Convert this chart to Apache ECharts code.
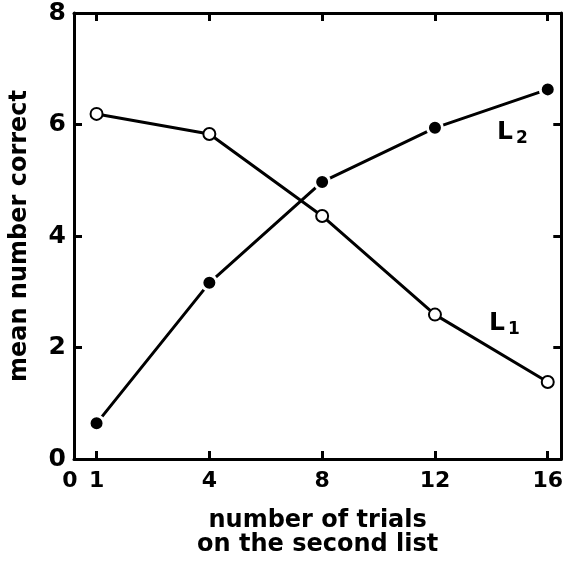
<!DOCTYPE html>
<html>
<head>
<meta charset="utf-8">
<script src="https://cdn.jsdelivr.net/npm/echarts@6/dist/echarts.min.js"></script>
<style>
  html, body { margin: 0; padding: 0; background: #fff; }
  #chart { width: 566px; height: 562px; }
</style>
</head>
<body>
<div id="chart"></div>
<script>
// trials on the second list (the x axis is drawn evenly spaced, as in the figure)
var trials = ['1', '4', '8', '12', '16'];
var l1Values = [6.19, 5.83, 4.36, 2.59, 1.38];
var l2Values = [0.64, 3.16, 4.97, 5.94, 6.63];
var yTicks = [0, 2, 4, 6, 8];

var font = 'DejaVu Sans';
var tickPos = trials.map(function (t, i) { return i; });

function toPoints(values, labelText) {
  return values.map(function (v, i) {
    var item = { value: [i, v] };
    // curve names sit next to the 12-trial point
    if (i === 3) {
      item.label = {
        show: true,
        position: 'right',
        offset: labelText === 'L1' ? [42, 9] : [48, 5],
        formatter: labelText === 'L1' ? 'L{s|1}' : 'L{s|2}',
        color: '#000',
        fontFamily: font,
        fontWeight: 'bold',
        fontSize: 25,
        rich: { s: { fontFamily: font, fontWeight: 'bold', fontSize: 17, padding: [12, 0, 0, 3] } }
      };
    }
    return item;
  });
}

var chart = echarts.init(document.getElementById('chart'));
var frameLine = { show: true, onZero: false, lineStyle: { color: '#000', width: 3 } };
var innerTick = { show: true, inside: true, length: 8, lineStyle: { color: '#000', width: 3 } };

chart.setOption({
  animation: false,
  grid: { left: 72, right: 2, top: 13, bottom: 99 },
  xAxis: [
    {
      type: 'value',
      position: 'bottom',
      min: -0.2,
      max: 4.12,
      axisLine: frameLine,
      splitLine: { show: false },
      axisTick: Object.assign({ customValues: tickPos }, innerTick),
      axisLabel: {
        customValues: [-0.2].concat(tickPos),
        formatter: function (v) {
          return v < 0 ? '{z|0}' : trials[Math.round(v)];
        },
        rich: { z: { fontFamily: font, fontWeight: 'bold', fontSize: 22, color: '#000', padding: [0, 8, 0, 0] } },
        fontFamily: font,
        fontWeight: 'bold',
        fontSize: 22,
        color: '#000',
        margin: 11,
        showMinLabel: true,
        showMaxLabel: true
      },
      name: 'number of trials\non the second list',
      nameLocation: 'middle',
      nameGap: 50,
      nameTextStyle: { fontFamily: font, fontWeight: 'bold', fontSize: 24, color: '#000', lineHeight: 24 }
    },
    {
      type: 'value',
      position: 'top',
      min: -0.2,
      max: 4.12,
      axisLine: frameLine,
      splitLine: { show: false },
      axisTick: Object.assign({ customValues: tickPos }, innerTick),
      axisLabel: { show: false }
    }
  ],
  yAxis: [
    {
      type: 'value',
      position: 'left',
      min: 0,
      max: 8,
      interval: 2,
      axisLine: frameLine,
      splitLine: { show: false },
      axisTick: innerTick,
      axisLabel: {
        fontFamily: font,
        fontWeight: 'bold',
        fontSize: 25,
        color: '#000',
        margin: 8,
        formatter: function (v) { return yTicks.indexOf(v) >= 0 ? String(v) : ''; }
      },
      name: 'mean number correct',
      nameLocation: 'middle',
      nameRotate: 90,
      nameGap: 42,
      nameTextStyle: { fontFamily: font, fontWeight: 'bold', fontSize: 24, color: '#000' }
    },
    {
      type: 'value',
      position: 'right',
      min: 0,
      max: 8,
      interval: 2,
      axisLine: frameLine,
      splitLine: { show: false },
      axisTick: innerTick,
      axisLabel: { show: false }
    }
  ],
  series: [
    {
      name: 'L1',
      type: 'line',
      data: toPoints(l1Values, 'L1'),
      symbol: 'circle',
      symbolSize: 12,
      showAllSymbol: true,
      lineStyle: { color: '#000', width: 3 },
      itemStyle: { color: '#fff', borderColor: '#000', borderWidth: 2 },
      z: 3
    },
    {
      name: 'L2',
      type: 'line',
      data: toPoints(l2Values, 'L2'),
      symbol: 'circle',
      symbolSize: 15,
      showAllSymbol: true,
      lineStyle: { color: '#000', width: 3 },
      itemStyle: { color: '#000', borderColor: '#fff', borderWidth: 3 },
      z: 2
    }
  ]
});
</script>
</body>
</html>
